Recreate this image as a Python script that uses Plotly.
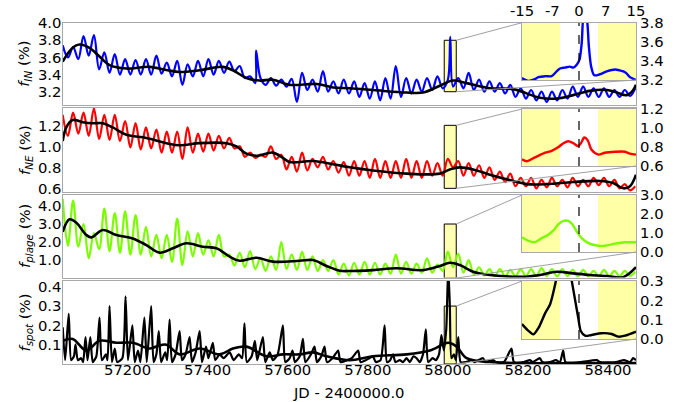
import plotly.graph_objects as go

# ---------------- data ----------------
# sampling grid for the oscillating series (JD - 2400000), 13-day steps
jd_grid = [57038 + 13 * i for i in range(111)]

f_in = [3.74, 3.60, 3.72, 3.58, 3.85, 3.62, 3.86, 3.46, 3.66, 3.42,
        3.64, 3.40, 3.58, 3.40, 3.57, 3.40, 3.58, 3.40, 3.62, 3.41,
        3.54, 3.38, 3.56, 3.28, 3.52, 3.38, 3.56, 3.38, 3.58, 3.40,
        3.56, 3.42, 3.55, 3.44, 3.50, 3.36, 3.38, 3.30, 3.36, 3.28,
        3.36, 3.27, 3.34, 3.26, 3.35, 3.08, 3.42, 3.22, 3.34, 3.20,
        3.44, 3.20, 3.32, 3.18, 3.34, 3.18, 3.32, 3.14, 3.30, 3.12,
        3.32, 3.10, 3.36, 3.12, 3.50, 3.14, 3.36, 3.18, 3.34, 3.20,
        3.36, 3.22, 3.38, 3.24, 3.34, 3.26, 3.36, 3.24, 3.42, 3.22,
        3.34, 3.20, 3.32, 3.20, 3.30, 3.18, 3.28, 3.14, 3.24, 3.12,
        3.22, 3.10, 3.20, 3.08, 3.20, 3.10, 3.22, 3.12, 3.26, 3.14,
        3.26, 3.14, 3.24, 3.14, 3.24, 3.14, 3.22, 3.14, 3.22, 3.15,
        3.24]
f_in_spike_jd = [57521, 58006]
f_in_spike_val = [3.68, 3.84]

f_ne = [1.30, 1.10, 1.32, 1.12, 1.32, 1.10, 1.36, 1.07, 1.30, 1.06,
        1.30, 1.05, 1.24, 0.99, 1.22, 0.97, 1.18, 0.98, 1.16, 0.94,
        1.14, 0.94, 1.14, 0.88, 1.18, 0.94, 1.12, 0.95, 1.12, 0.96,
        1.10, 0.98, 1.08, 0.98, 1.00, 0.90, 0.94, 0.89, 0.92, 0.90,
        1.00, 0.88, 0.92, 0.78, 0.90, 0.76, 0.94, 0.77, 0.88, 0.80,
        0.90, 0.78, 0.86, 0.75, 0.85, 0.72, 0.86, 0.72, 0.86, 0.70,
        0.88, 0.70, 0.86, 0.70, 0.86, 0.70, 0.88, 0.70, 0.86, 0.70,
        0.86, 0.72, 0.84, 0.72, 0.88, 0.80, 0.86, 0.72, 0.84, 0.72,
        0.82, 0.70, 0.80, 0.68, 0.76, 0.66, 0.74, 0.62, 0.70, 0.62,
        0.70, 0.60, 0.68, 0.61, 0.70, 0.62, 0.68, 0.61, 0.70, 0.62,
        0.68, 0.62, 0.70, 0.63, 0.70, 0.62, 0.68, 0.60, 0.64, 0.58,
        0.62]

f_plage = [4.40, 1.80, 4.30, 1.75, 3.00, 1.10, 2.50, 1.60, 3.85, 1.50,
           3.60, 1.40, 3.70, 1.30, 3.50, 1.30, 2.85, 1.20, 2.40, 1.10,
           2.40, 0.90, 3.30, 0.72, 2.60, 1.20, 2.50, 1.30, 2.10, 1.20,
           2.40, 1.20, 1.30, 0.70, 1.40, 0.60, 1.50, 0.50, 1.10, 0.40,
           1.20, 0.45, 2.00, 0.50, 1.30, 0.45, 1.45, 0.45, 1.20, 0.40,
           1.00, 0.40, 1.00, 0.20, 0.80, 0.15, 0.85, 0.20, 0.90, 0.20,
           0.85, 0.20, 0.80, 0.25, 1.30, 0.25, 0.90, 0.25, 0.80, 0.30,
           1.10, 0.30, 0.75, 0.40, 1.45, 0.60, 1.35, 0.30, 1.00, 0.20,
           0.60, 0.15, 0.50, 0.10, 0.50, 0.10, 0.45, 0.10, 0.50, 0.10,
           0.50, 0.10, 0.55, 0.12, 0.50, 0.10, 0.50, 0.12, 0.45, 0.10,
           0.45, 0.10, 0.40, 0.10, 0.45, 0.10, 0.40, 0.10, 0.40, 0.12,
           0.35]

spot_jd = [57038, 57044, 57053, 57059, 57066, 57070, 57076, 57084, 57089, 57095,
           57100, 57107, 57113, 57122, 57130, 57136, 57146, 57150, 57155, 57161,
           57168, 57174, 57187, 57195, 57201, 57212, 57218, 57226, 57232, 57242,
           57248, 57259, 57265, 57272, 57278, 57284, 57294, 57299, 57305, 57311,
           57320, 57330, 57336, 57345, 57355, 57361, 57370, 57380, 57386, 57396,
           57402, 57413, 57419, 57430, 57440, 57455, 57465, 57478, 57486, 57492,
           57498, 57510, 57518, 57524, 57538, 57544, 57555, 57563, 57575, 57588,
           57594, 57605, 57612, 57618, 57630, 57638, 57644, 57658, 57667, 57673,
           57684, 57692, 57698, 57712, 57726, 57732, 57748, 57760, 57776, 57782,
           57795, 57804, 57813, 57820, 57832, 57842, 57848, 57856, 57863, 57869,
           57880, 57888, 57897, 57905, 57914, 57922, 57930, 57938, 57945, 57951,
           57962, 57970, 57978, 57984, 57990, 57996, 58001, 58005, 58009, 58015,
           58020, 58026, 58032, 58045, 58060, 58066, 58088, 58094, 58113, 58120,
           58140, 58159, 58165, 58190, 58205, 58212, 58230, 58236, 58255, 58270,
           58280, 58288, 58294, 58330, 58372, 58380, 58420, 58440, 58455, 58463,
           58470]
f_spot = [0.19, 0.02, 0.26, 0.02, 0.04, 0.10, 0.02, 0.03, 0.01, 0.14,
          0.02, 0.14, 0.01, 0.04, 0.24, 0.02, 0.05, 0.02, 0.30, 0.01,
          0.08, 0.01, 0.03, 0.35, 0.02, 0.20, 0.01, 0.07, 0.01, 0.24,
          0.01, 0.30, 0.01, 0.05, 0.17, 0.01, 0.06, 0.02, 0.23, 0.01,
          0.05, 0.17, 0.02, 0.05, 0.14, 0.01, 0.06, 0.17, 0.01, 0.09,
          0.03, 0.11, 0.02, 0.05, 0.03, 0.06, 0.02, 0.05, 0.03, 0.21,
          0.01, 0.04, 0.12, 0.02, 0.14, 0.01, 0.06, 0.02, 0.05, 0.20,
          0.01, 0.03, 0.07, 0.01, 0.04, 0.13, 0.01, 0.05, 0.09, 0.01,
          0.04, 0.09, 0.01, 0.03, 0.07, 0.01, 0.02, 0.03, 0.07, 0.01,
          0.02, 0.03, 0.04, 0.01, 0.02, 0.20, 0.01, 0.02, 0.05, 0.01,
          0.02, 0.01, 0.03, 0.01, 0.04, 0.03, 0.01, 0.05, 0.18, 0.01,
          0.03, 0.02, 0.05, 0.15, 0.07, 0.18, 0.50, 0.30, 0.03, 0.05,
          0.02, 0.14, 0.01, 0.01, 0.02, 0.01, 0.03, 0.01, 0.02, 0.01,
          0.01, 0.08, 0.01, 0.01, 0.02, 0.01, 0.03, 0.01, 0.01, 0.02,
          0.01, 0.07, 0.01, 0.01, 0.02, 0.01, 0.01, 0.02, 0.01, 0.03,
          0.02]

# smoothed (black) curves
sm_in_jd = [57038, 57060, 57080, 57105, 57130, 57155, 57197, 57255, 57300, 57330,
            57380, 57438, 57463, 57497, 57530, 57563, 57605, 57672, 57713, 57755,
            57813, 57897, 57938, 57980, 58013, 58047, 58105, 58163, 58230, 58272,
            58313, 58355, 58397, 58422, 58447, 58463, 58470]
sm_in = [3.55, 3.70, 3.75, 3.71, 3.61, 3.51, 3.47, 3.49, 3.45, 3.43,
         3.45, 3.49, 3.45, 3.36, 3.33, 3.34, 3.28, 3.29, 3.25, 3.24,
         3.22, 3.19, 3.19, 3.27, 3.33, 3.30, 3.24, 3.23, 3.13, 3.12,
         3.16, 3.21, 3.22, 3.19, 3.16, 3.22, 3.28]

sm_ne_jd = [57038, 57047, 57063, 57088, 57113, 57138, 57163, 57197, 57247, 57297,
            57330, 57380, 57447, 57472, 57497, 57522, 57563, 57588, 57605, 57663,
            57713, 57755, 57813, 57897, 57980, 58005, 58030, 58063, 58105, 58163,
            58197, 58247, 58313, 58380, 58413, 58438, 58455, 58470]
sm_ne = [1.05, 1.18, 1.25, 1.23, 1.22, 1.22, 1.18, 1.11, 1.08, 1.03,
         1.01, 1.03, 1.03, 1.00, 0.93, 0.91, 0.94, 0.89, 0.85, 0.86,
         0.83, 0.80, 0.77, 0.74, 0.74, 0.78, 0.80, 0.78, 0.73, 0.67,
         0.64, 0.64, 0.66, 0.67, 0.65, 0.60, 0.62, 0.73]

sm_plage_jd = [57038, 57055, 57072, 57097, 57110, 57138, 57172, 57213, 57247, 57280,
               57313, 57347, 57388, 57422, 57455, 57480, 57522, 57563, 57630, 57663,
               57697, 57730, 57755, 57813, 57872, 57938, 57980, 58005, 58030, 58063,
               58105, 58188, 58230, 58272, 58313, 58355, 58397, 58438, 58470]
sm_plage = [2.57, 3.26, 3.07, 2.39, 2.26, 2.67, 2.39, 2.20, 1.83, 1.41,
            1.65, 1.93, 1.74, 1.65, 1.19, 0.96, 1.13, 0.91, 0.96, 1.00,
            0.67, 0.41, 0.39, 0.44, 0.54, 0.44, 0.67, 0.85, 0.72, 0.35,
            0.17, 0.07, 0.17, 0.35, 0.26, 0.17, 0.11, 0.05, 0.60]

sm_spot_jd = [57038, 57063, 57097, 57130, 57172, 57213, 57255, 57272, 57297, 57330,
              57380, 57430, 57463, 57497, 57547, 57588, 57630, 57663, 57697, 57755,
              57813, 57897, 57955, 58001, 58022, 58047, 58105, 58188, 58470]
sm_spot = [0.12, 0.13, 0.07, 0.12, 0.11, 0.11, 0.08, 0.09, 0.10, 0.05,
           0.08, 0.05, 0.08, 0.09, 0.04, 0.05, 0.05, 0.06, 0.04, 0.02,
           0.04, 0.05, 0.07, 0.11, 0.09, 0.03, 0.01, 0.005, 0.005]

# zoomed event (days relative to the event centre)
event_jd = 58006
in1_t = [-15, -13.3, -11.6, -10.7, -8.9, -7.2, -5.9, -5.0, -3.7, -2.4, -1.5, -0.6, 0.1,
         0.7, 1.3, 2.0, 2.6, 3.2, 4.0, 5.5, 7.3, 9.5, 10.8, 11.7, 12.5, 13.4, 15]
in1_v = [3.22, 3.19, 3.21, 3.23, 3.24, 3.24, 3.29, 3.32, 3.33, 3.34, 3.33, 3.36, 3.41,
         3.58, 3.90, 3.85, 3.55, 3.34, 3.25, 3.26, 3.29, 3.31, 3.30, 3.29, 3.27, 3.23, 3.20]
in2_t = [-15, -13.8, -11.6, -8.9, -7.2, -5.4, -4.1, -2.8, -1.5, -0.2, 0.5, 1.4, 2.3,
         3.3, 5.1, 6.8, 9.5, 12.1, 13.4, 15]
in2_v = [0.67, 0.65, 0.69, 0.74, 0.76, 0.80, 0.84, 0.86, 0.84, 0.81, 0.84, 0.90, 0.87,
         0.77, 0.72, 0.74, 0.75, 0.75, 0.73, 0.72]
in3_t = [-15, -13.3, -11.6, -9.8, -8.1, -6.8, -5.4, -4.1, -2.8, -1.8, -0.6, 0.7, 2.5,
         5.1, 6.8, 9.5, 12.1, 15]
in3_v = [0.77, 0.59, 0.52, 0.73, 0.91, 1.12, 1.47, 1.64, 1.64, 1.47, 1.08, 0.73, 0.47,
         0.33, 0.33, 0.44, 0.51, 0.51]
in4_t = [-15, -13.3, -12.0, -10.7, -8.9, -7.6, -6.3, -5.9, -3.7, -1.9, -1.1, -0.2, 0.5,
         1.6, 3.3, 5.9, 8.6, 10.4, 12.1, 15]
in4_v = [0.077, 0.042, 0.024, 0.056, 0.134, 0.18, 0.28, 0.32, 0.50, 0.30, 0.21, 0.11, 0.04,
         0.017, 0.021, 0.03, 0.026, 0.012, 0.017, 0.038]

x_ticks = [57200, 57400, 57600, 57800, 58000, 58200, 58400]
inset_ticks = [-15, -7, 0, 7, 15]
inset_ticktext = ["-15", "-7", "0", "7", "15"]
y_labels = ["<i>f</i><sub><i>IN</i></sub> (%)", "<i>f</i><sub><i>NE</i></sub> (%)",
            "<i>f</i><sub><i>plage</i></sub> (%)", "<i>f</i><sub><i>spot</i></sub> (%)"]
main_yticks = [[3.2, 3.4, 3.6, 3.8, 4.0], [0.6, 0.8, 1.0, 1.2],
               [1.0, 2.0, 3.0, 4.0], [0.1, 0.2, 0.3, 0.4]]
inset_yticks = [[3.2, 3.4, 3.6, 3.8], [0.6, 0.8, 1.0, 1.2],
                [0.0, 1.0, 2.0, 3.0], [0.0, 0.1, 0.2, 0.3]]

# ---------------- layout constants ----------------
W, H = 685, 402
OFF = 0  # body margin is removed below, so figure pixels == window pixels
XR = [57037.5, 58470]
main_yr = [[3.045, 4.005], [0.565, 1.365], [0.03, 4.64], [0.0, 0.43]]
inset_yr = [[3.2, 3.8], [0.6, 1.2], [0.0, 3.0], [0.0, 0.3]]
main_px = [(22.7, 105), (108, 192), (194.5, 277.5), (281, 364)]
inset_px = [(22.7, 80), (109, 166), (195, 252), (281, 339)]


def fx(p):
    return (p - OFF) / W


def fy(p):
    return 1 - (p - OFF) / H


MX = [fx(62.5), fx(636)]
IX = [fx(522), fx(636)]
main_dom = [[fy(b), fy(t)] for t, b in main_px]
inset_dom = [[fy(b), fy(t)] for t, b in inset_px]

FONT = "DejaVu Sans"
FS = 14.8
FRAME = "#a8a8a8"
colors = ["#0000ff", "#ff0000", "#7cfc00", "#000000"]

# merge spikes into the f_IN series
pairs = sorted(list(zip(jd_grid, f_in)) + list(zip(f_in_spike_jd, f_in_spike_val)))
f_in_jd = [p[0] for p in pairs]
f_in_all = [p[1] for p in pairs]

series = [(f_in_jd, f_in_all), (jd_grid, f_ne), (jd_grid, f_plage), (spot_jd, f_spot)]
smooth = [(sm_in_jd, sm_in), (sm_ne_jd, sm_ne), (sm_plage_jd, sm_plage), (sm_spot_jd, sm_spot)]
insets = [(in1_t, in1_v), (in2_t, in2_v), (in3_t, in3_v), (in4_t, in4_v)]

fig = go.Figure()


def ax(n):
    return "" if n == 1 else str(n)


for k in range(4):
    n = k + 1
    xs, ys = series[k]
    fig.add_trace(go.Scatter(x=xs, y=ys, mode="lines",
                             line=dict(color=colors[k], width=2.2,
                                       shape="spline", smoothing=1.0 if k < 3 else 0.6),
                             xaxis="x" + ax(n), yaxis="y" + ax(n), hoverinfo="skip"))
    sx, sy = smooth[k]
    fig.add_trace(go.Scatter(x=sx, y=sy, mode="lines",
                             line=dict(color="black", width=2.6, shape="spline", smoothing=1.0),
                             xaxis="x" + ax(n), yaxis="y" + ax(n), hoverinfo="skip"))
for k in range(4):
    n = k + 5
    tx, tv = insets[k]
    fig.add_trace(go.Scatter(x=tx, y=tv, mode="lines",
                             line=dict(color=colors[k], width=2.4, shape="spline", smoothing=0.8),
                             xaxis="x" + ax(n), yaxis="y" + ax(n), hoverinfo="skip"))

layout = dict(width=W, height=H, margin=dict(l=0, r=0, t=0, b=0, autoexpand=False),
              paper_bgcolor="white", plot_bgcolor="white", showlegend=False,
              font=dict(family=FONT, size=FS, color="black"))

axis_common = dict(showline=True, mirror=True, linecolor=FRAME, linewidth=1.2,
                   showgrid=False, zeroline=False, ticks="", automargin=False,
                   tickfont=dict(family=FONT, size=FS, color="black"))

for k in range(4):
    n = k + 1
    layout["xaxis" + ax(n)] = dict(axis_common, domain=MX, range=XR, anchor="y" + ax(n),
                                   tickvals=x_ticks, tickformat="d",
                                   showticklabels=(k == 3), ticklabelstandoff=-8)
    layout["yaxis" + ax(n)] = dict(axis_common, domain=main_dom[k], range=main_yr[k],
                                   anchor="x" + ax(n), tickvals=main_yticks[k],
                                   tickformat=".1f", ticklabelstandoff=-3)
for k in range(4):
    n = k + 5
    layout["xaxis" + ax(n)] = dict(axis_common, domain=IX, range=[-15, 15], anchor="y" + ax(n),
                                   side="top", tickvals=inset_ticks, ticktext=inset_ticktext,
                                   showticklabels=(k == 0), ticklabelstandoff=0)
    layout["yaxis" + ax(n)] = dict(axis_common, domain=inset_dom[k], range=inset_yr[k],
                                   anchor="x" + ax(n), side="right",
                                   tickvals=inset_yticks[k], tickformat=".1f")
fig.update_layout(**layout)


def to_paper(xv, yv, k):
    px = MX[0] + (xv - XR[0]) / (XR[1] - XR[0]) * (MX[1] - MX[0])
    lo, hi = main_yr[k]
    d0, d1 = main_dom[k]
    py = d0 + (yv - lo) / (hi - lo) * (d1 - d0)
    return px, py


shapes = []
for k in range(4):
    n = k + 1
    lo, hi = inset_yr[k]
    # highlight box on the main panel
    shapes.append(dict(type="rect", xref="x" + ax(n), yref="y" + ax(n),
                       x0=event_jd - 15, x1=event_jd + 15, y0=lo, y1=hi,
                       fillcolor="rgba(255,255,0,0.3)", line=dict(color="black", width=1),
                       layer="below"))
    # shaded bands in the inset
    for a, b in [(-15, -5), (5, 15)]:
        shapes.append(dict(type="rect", xref="x" + ax(n + 4), yref="y" + ax(n + 4),
                           x0=a, x1=b, y0=lo, y1=hi,
                           fillcolor="rgba(255,255,0,0.35)", line=dict(width=0),
                           layer="below"))
    shapes.append(dict(type="line", xref="x" + ax(n + 4), yref="y" + ax(n + 4),
                       x0=0, x1=0, y0=lo, y1=hi,
                       line=dict(color="black", width=1.2, dash="dash")))
    # connector lines
    bx, by = to_paper(event_jd + 15, hi, k)
    shapes.append(dict(type="line", xref="paper", yref="paper",
                       x0=bx, y0=by, x1=IX[0], y1=inset_dom[k][1],
                       line=dict(color="#a0a0a0", width=1)))
    bx, by = to_paper(event_jd + 15, lo, k)
    shapes.append(dict(type="line", xref="paper", yref="paper",
                       x0=bx, y0=by, x1=IX[1], y1=inset_dom[k][0],
                       line=dict(color="#a0a0a0", width=1)))
fig.update_layout(shapes=shapes)

annotations = []
for k in range(4):
    annotations.append(dict(text=y_labels[k], xref="paper", yref="paper",
                            x=fx(25), y=(main_dom[k][0] + main_dom[k][1]) / 2,
                            xanchor="center", yanchor="middle", textangle=-90,
                            showarrow=False, font=dict(family=FONT, size=FS, color="black")))
annotations.append(dict(text="JD - 2400000.0", xref="paper", yref="paper",
                        x=(MX[0] + MX[1]) / 2, y=fy(392.5), xanchor="center",
                        yanchor="middle", showarrow=False,
                        font=dict(family=FONT, size=FS, color="black")))
fig.update_layout(annotations=annotations)

fig.write_html("out.html", config={"displayModeBar": False},
               post_script="document.body.style.margin='0';document.body.style.overflow='hidden';")
